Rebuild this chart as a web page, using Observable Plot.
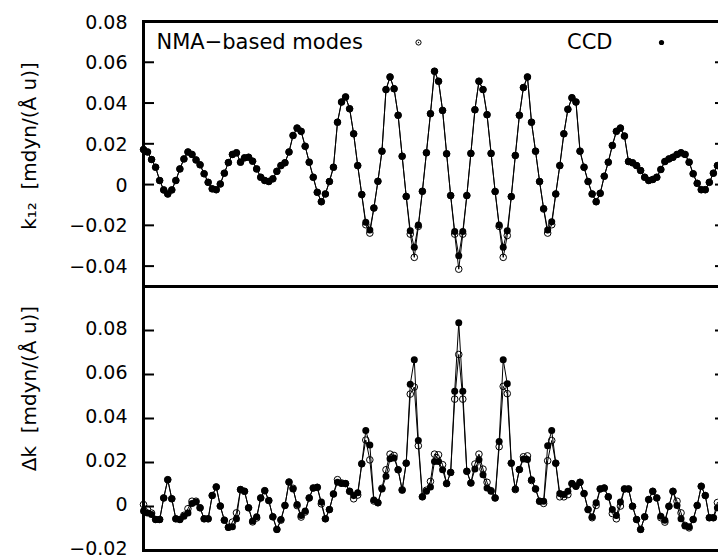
<!DOCTYPE html>
<html>
<head>
<meta charset="utf-8">
<script src="https://cdn.jsdelivr.net/npm/d3@7"></script>
<script src="https://cdn.jsdelivr.net/npm/@observablehq/plot@0.6"></script>
<style>
  html, body { margin: 0; padding: 0; background: white; overflow: hidden; width: 718px; height: 559px; }
  #wrap { width: 730px; }
  #wrap svg { display: block; max-width: none; overflow: visible; }
</style>
</head>
<body>
<div id="wrap"></div>
<script>
// ---- data ----
const topCCD = [0.0172,0.016,0.0123,0.0085,0.002,-0.0026,-0.0046,-0.0026,0.002,0.0077,
0.0126,0.016,0.0148,0.0121,0.0097,0.0053,0.0011,-0.0021,-0.0025,0.0003,
0.0056,0.0108,0.0148,0.0156,0.011,0.0131,0.0134,0.0115,0.0077,0.0036,
0.002,0.0015,0.0028,0.0065,0.0093,0.0107,0.016,0.0241,0.0277,0.0261,
0.0188,0.011,0.0036,-0.0038,-0.0084,-0.0046,0.0015,0.0085,0.0306,0.0405,
0.043,0.0372,0.0249,0.0093,-0.0049,-0.0185,-0.0223,-0.0115,0.0016,0.0164,
0.0466,0.0528,0.047,0.034,0.0139,-0.0058,-0.0226,-0.0308,-0.0198,-0.0033,
0.0156,0.0348,0.0556,0.0507,0.0364,0.0151,-0.0054,-0.023,-0.0349,-0.023,
-0.0054,0.0153,0.0367,0.0507,0.0466,0.0343,0.0153,-0.0034,-0.0198,-0.0308,
-0.0226,-0.0059,0.0143,0.034,0.0476,0.0528,0.0306,0.0164,0.0015,-0.0117,
-0.0223,-0.0182,-0.0046,0.0093,0.0249,0.0369,0.0426,0.0405,0.0164,0.0085,
0.0015,-0.0046,-0.0084,-0.0043,0.0041,0.011,0.0192,0.0261,0.0277,0.0238,
0.0113,0.0107,0.0093,0.0069,0.0036,0.002,0.0025,0.0036,0.0074,0.0113,
0.0126,0.0134,0.0148,0.0156,0.0148,0.011,0.0053,0.0006,-0.0025,-0.0025,
0.0011,0.0056,0.0093];

const topNMA = [0.0172,0.016,0.0123,0.0085,0.002,-0.0026,-0.0046,-0.0026,0.002,0.0077,
0.0126,0.016,0.0148,0.0121,0.0097,0.0053,0.0011,-0.0021,-0.0025,0.0003,
0.0056,0.0108,0.0148,0.0156,0.011,0.0131,0.0134,0.0115,0.0077,0.0036,
0.002,0.0015,0.0028,0.0065,0.0093,0.0107,0.016,0.0241,0.0277,0.0261,
0.0188,0.011,0.0036,-0.0038,-0.0084,-0.0046,0.0015,0.0085,0.0306,0.0405,
0.043,0.0372,0.0249,0.0093,-0.0049,-0.0197,-0.0238,-0.0115,0.0016,0.0164,
0.0466,0.0528,0.047,0.034,0.0139,-0.0058,-0.0243,-0.0357,-0.0205,-0.0033,
0.0156,0.0348,0.0556,0.0507,0.0364,0.0151,-0.0054,-0.0243,-0.0415,-0.0243,
-0.0054,0.0153,0.0367,0.0507,0.0466,0.0343,0.0153,-0.0034,-0.0205,-0.0357,
-0.025,-0.0059,0.0143,0.034,0.0476,0.0528,0.0306,0.0164,0.0015,-0.012,
-0.0238,-0.0197,-0.0046,0.0093,0.0249,0.0369,0.0426,0.0405,0.0164,0.0085,
0.0015,-0.0046,-0.0084,-0.0043,0.0041,0.011,0.0192,0.0261,0.0277,0.0238,
0.0113,0.0107,0.0093,0.0069,0.0036,0.002,0.0025,0.0036,0.0074,0.0113,
0.0126,0.0134,0.0148,0.0156,0.0148,0.011,0.0053,0.0006,-0.0025,-0.0025,
0.0011,0.0056,0.0093];

const botCCD = [-0.0021,-0.0029,-0.0036,-0.0059,-0.0059,0.0039,0.0122,0.0035,-0.0056,-0.0059,
-0.0044,-0.0029,0.0014,0.002,-0.0006,-0.0056,-0.0056,0.005,0.0089,0.0002,
-0.0062,-0.0096,-0.0092,-0.0056,0.0077,0.0069,-0.0006,-0.0066,-0.0047,0.0039,
0.0072,0.0027,-0.0047,-0.0104,-0.0059,0.0005,0.0111,0.008,0.0009,-0.0041,
-0.0021,0.0039,0.0084,0.0087,0.002,-0.0056,-0.0014,0.0057,0.011,0.0104,
0.0104,0.0069,0.005,0.0062,0.0194,0.0345,0.028,0.0029,0.0017,0.008,
0.0137,0.0217,0.022,0.0167,0.0074,0.0197,0.0556,0.0667,0.03,0.0044,
0.0069,0.0089,0.0205,0.0205,0.0167,0.0104,0.0155,0.0524,0.0835,0.0524,
0.016,0.0107,0.017,0.0212,0.0144,0.0084,0.0069,0.0039,0.0295,0.0667,
0.0558,0.0197,0.008,0.0168,0.0216,0.0214,0.0122,0.008,0.0024,0.0024,
0.0276,0.0345,0.0197,0.0059,0.0054,0.0069,0.0104,0.0092,0.011,0.0059,
-0.0014,-0.0047,0.0017,0.008,0.0084,0.0044,-0.0014,-0.0041,0.002,0.008,
0.008,0.0001,-0.0059,-0.0104,-0.0047,0.0032,0.0069,0.0039,-0.0044,-0.0062,
0.0001,0.0069,0.0005,-0.0056,-0.0089,-0.0092,-0.0059,0.0005,0.0092,0.005,
-0.0051,-0.0051,-0.0006];

const botNMA = [0.0009,-0.0014,-0.003,-0.0059,-0.0059,0.0039,0.0122,0.0035,-0.0056,-0.0059,
-0.004,-0.001,0.0024,0.0024,-0.0006,-0.0056,-0.0056,0.005,0.0089,0.0002,
-0.0062,-0.0094,-0.0071,-0.0029,0.0077,0.0069,-0.0006,-0.007,-0.0052,0.0039,
0.0072,0.0027,-0.0047,-0.0104,-0.0062,0.0005,0.0111,0.0083,0.0004,-0.0048,
-0.0025,0.0039,0.0084,0.0087,0.0012,-0.0056,-0.0014,0.0057,0.0122,0.0107,
0.0104,0.0069,0.0035,0.0052,0.0194,0.0302,0.0212,0.0025,0.0017,0.0083,
0.0167,0.0238,0.0232,0.0167,0.0076,0.0197,0.0511,0.0543,0.0276,0.0044,
0.0074,0.0114,0.0238,0.0235,0.019,0.0104,0.0155,0.0488,0.0691,0.0488,
0.016,0.0107,0.0193,0.0238,0.017,0.011,0.0072,0.0039,0.0272,0.0546,
0.0513,0.0197,0.0077,0.0168,0.0226,0.023,0.0118,0.008,0.0024,0.0014,
0.0208,0.03,0.0197,0.0044,0.0044,0.0054,0.0104,0.0092,0.011,0.0059,
-0.0014,-0.0051,0.0005,0.008,0.0084,0.0044,-0.0032,-0.0056,0.0002,0.008,
0.008,0.0001,-0.0059,-0.0104,-0.0047,0.0032,0.0069,0.0039,-0.0051,-0.0071,
0.0001,0.0069,0.0024,-0.0029,-0.0086,-0.0097,-0.0059,0.0005,0.0092,0.005,
-0.0051,-0.0051,0.0018];

const site = d3.range(topCCD.length);           // point index along the chain
const topTicks = [-0.04, -0.02, 0, 0.02, 0.04, 0.06, 0.08];
const botTicks = [-0.02, 0, 0.02, 0.04, 0.06, 0.08];
const seriesNames = ["NMA\u2212based modes", "CCD"];
const yLabels = ["k\u2081\u2082  [mdyn/(\u00C5 u)]", "\u0394k  [mdyn/(\u00C5 u)]"];

// ---- helpers ----
const FONT = "DejaVu Sans";
const fmt = d => d === 0 ? "0" : d3.format(".2f")(d);
const rows = (a, b) => site.map((s, i) => ({site: s, nma: a[i], ccd: b[i]}));

function panel({data, yDomain, ticks, height, marginTop, marginBottom, label, labelDy, tickDy, legend}) {
  const marks = [
    Plot.frame({stroke: "black", strokeWidth: 3}),
    Plot.axisY(ticks, {anchor: "left", tickSize: 11, dx: 11, strokeWidth: 2, tickFormat: () => "", label: null}),
    Plot.axisY(ticks, {anchor: "right", tickSize: 11, dx: -11, strokeWidth: 2, tickFormat: () => "", label: null}),
    Plot.axisY(ticks, {anchor: "left", tickSize: 0, tickPadding: 16, dy: tickDy, tickFormat: fmt, fontSize: 19, label: null, fill: "black"}),
    Plot.line(data, {x: "site", y: "nma", stroke: "black", strokeWidth: 1}),
    Plot.dot(data, {x: "site", y: "nma", r: 3.3, stroke: "black", fill: "none", strokeWidth: 1}),
    Plot.line(data, {x: "site", y: "ccd", stroke: "black", strokeWidth: 1}),
    Plot.dot(data, {x: "site", y: "ccd", r: 3.5, fill: "black", stroke: "none"}),
    Plot.text([label], {text: d => d, frameAnchor: "left", rotate: -90, dx: -114, dy: labelDy,
      textAnchor: "middle", lineAnchor: "middle", fontSize: 20, fill: "black"})
  ];
  if (legend) {
    marks.push(
      Plot.text([seriesNames[0]], {text: d => d, frameAnchor: "top-left", dx: 13, dy: 21, textAnchor: "start", lineAnchor: "middle", fontSize: 21, fill: "black"}),
      Plot.dot([0], {frameAnchor: "top-left", dx: 275, dy: 21, r: 2.6, stroke: "black", fill: "none", strokeWidth: 1}),
      Plot.dot([0], {frameAnchor: "top-left", dx: 275, dy: 21, r: 0.7, fill: "black"}),
      Plot.text([seriesNames[1]], {text: d => d, frameAnchor: "top-left", dx: 469, dy: 21, textAnchor: "end", lineAnchor: "middle", fontSize: 21, fill: "black"}),
      Plot.dot([0], {frameAnchor: "top-left", dx: 518, dy: 21, r: 2.6, fill: "black"})
    );
  }
  return Plot.plot({
    width: 730,
    height,
    marginLeft: 143,
    marginRight: 5,
    marginTop,
    marginBottom,
    style: {fontFamily: FONT, background: "white", color: "black", overflow: "visible", maxWidth: "none"},
    x: {domain: [0, 144], axis: null},
    y: {domain: yDomain, label: null},
    marks
  });
}

const wrap = document.getElementById("wrap");
wrap.appendChild(panel({
  data: rows(topNMA, topCCD), yDomain: [-0.05, 0.08], ticks: topTicks,
  height: 286, marginTop: 21, marginBottom: 0, label: yLabels[0], labelDy: -8, tickDy: 1, legend: true
}));
wrap.appendChild(panel({
  data: rows(botNMA, botCCD), yDomain: [-0.02, 0.1], ticks: botTicks,
  height: 273, marginTop: 0, marginBottom: 9, label: yLabels[1], labelDy: -30, tickDy: -2, legend: false
}));
</script>
</body>
</html>
